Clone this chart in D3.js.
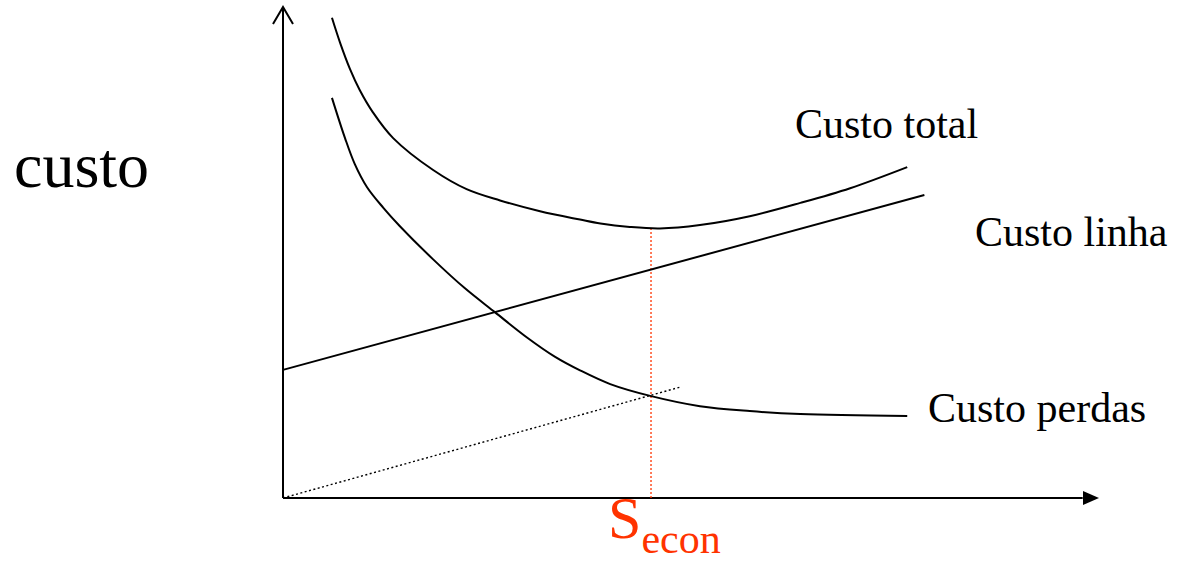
<!DOCTYPE html>
<html>
<head>
<meta charset="utf-8">
<script src="https://cdn.jsdelivr.net/npm/d3@7"></script>
<style>
  body { margin: 0; background: #fff; }
</style>
</head>
<body>
<div id="chart"></div>
<script>
// values (x = section, y = cost, arbitrary units 0..100)
const custoTotal = [
  [6.0, 97.8], [7.0, 92.7], [8.2, 87.4], [9.4, 83.1], [11.0, 78.6],
  [13.5, 73.3], [18.4, 66.8], [22.5, 62.9], [26.6, 60.6], [31.5, 58.4],
  [36.4, 56.7], [38.9, 55.9], [42.5, 55.2], [46.2, 54.9], [51.1, 55.6],
  [57.2, 57.4], [63.4, 60.1], [69.5, 63.1], [76.5, 67.4]
];
const custoPerdas = [
  [6.0, 81.5], [7.6, 73.3], [8.8, 68.0], [10.3, 63.3], [12.3, 59.1],
  [14.3, 55.4], [18.4, 48.6], [22.3, 42.7], [26.0, 37.8], [29.9, 32.7],
  [33.3, 28.8], [36.4, 26.0], [40.1, 23.2], [45.0, 20.8], [51.1, 18.7],
  [57.2, 17.7], [63.4, 17.1], [76.5, 16.7]
];
const custoLinha = [[0, 26.1], [78.6, 61.7]];
const tangente = [[0, 0], [48.7, 22.6]];
const sEcon = 45.1;
const labels = ["Custo total", "Custo linha", "Custo perdas"];

const width = 1177, height = 562;
const x0 = 283, y0 = 498;
const serif = '"Liberation Serif"';

const svg = d3.select("#chart").append("svg")
  .attr("width", width)
  .attr("height", height);

const x = d3.scaleLinear().domain([0, 100]).range([x0, 1099]);
const y = d3.scaleLinear().domain([0, 100]).range([y0, 7]);

const line = d3.line()
  .x(d => x(d[0]))
  .y(d => y(d[1]))
  .curve(d3.curveCatmullRom.alpha(0.5));

// axes
svg.append("line")
  .attr("x1", x(0)).attr("y1", y(0))
  .attr("x2", x(0)).attr("y2", y(100))
  .attr("stroke", "#000").attr("stroke-width", 2);
svg.append("path")
  .attr("d", `M${x(0) - 10},${y(100) + 17}L${x(0)},${y(100)}L${x(0) + 10},${y(100) + 17}`)
  .attr("fill", "none").attr("stroke", "#000").attr("stroke-width", 2);
svg.append("line")
  .attr("x1", x(0)).attr("y1", y(0))
  .attr("x2", x(98)).attr("y2", y(0))
  .attr("stroke", "#000").attr("stroke-width", 2.2);
svg.append("path")
  .attr("d", `M${x(100)},${y(0)}L${x(100) - 16},${y(0) - 7}L${x(100) - 16},${y(0) + 7}Z`)
  .attr("fill", "#000");

// dotted helper line
svg.append("path")
  .attr("d", line(tangente))
  .attr("fill", "none").attr("stroke", "#000")
  .attr("stroke-width", 1.4).attr("stroke-dasharray", "2,2.5");

// economic section marker
const yMin = d3.min(custoTotal, d => d[1]);
svg.append("line")
  .attr("x1", x(sEcon)).attr("y1", y(0))
  .attr("x2", x(sEcon)).attr("y2", y(yMin))
  .attr("stroke", "#ff3300").attr("stroke-width", 1.3)
  .attr("stroke-dasharray", "2,2");

// curves
[custoTotal, custoLinha, custoPerdas].forEach(s => {
  svg.append("path")
    .attr("d", line(s))
    .attr("fill", "none")
    .attr("stroke", "#000")
    .attr("stroke-width", 2);
});

// text
svg.append("text")
  .attr("x", 14).attr("y", 187)
  .style("font-family", serif)
  .attr("font-size", 64)
  .text("custo");

const labelPos = [[795, 138], [975, 246], [928, 422]];
labels.forEach((t, i) => {
  svg.append("text")
    .attr("x", labelPos[i][0]).attr("y", labelPos[i][1])
    .style("font-family", serif)
    .attr("font-size", 42)
    .text(t);
});

const st = svg.append("text")
  .attr("x", x(sEcon) - 43).attr("y", 538)
  .style("font-family", serif)
  .attr("fill", "#ff3300")
  .attr("font-size", 60);
st.append("tspan").text("S");
st.append("tspan").attr("font-size", 42).attr("dy", 15).text("econ");
</script>
</body>
</html>
